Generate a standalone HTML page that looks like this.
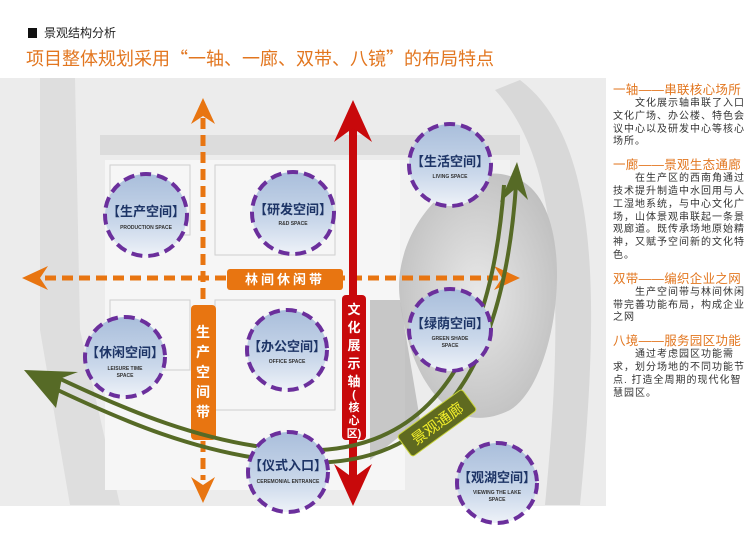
<!DOCTYPE html>
<html><head><meta charset="utf-8"><style>
body{margin:0;width:756px;height:535px;background:#fff;position:relative;overflow:hidden;font-family:"Liberation Sans","Noto Sans CJK SC",sans-serif}
.h1{position:absolute;left:28px;top:24px;font-size:12px;color:#222}
.h1 b{display:inline-block;width:9px;height:10px;background:#111;margin-right:7px;vertical-align:-1px}
.h2{position:absolute;left:26px;top:45px;font-size:18px;color:#e2761f;font-family:"Noto Sans CJK SC",sans-serif;white-space:nowrap}
.side{position:absolute;left:613px;top:82px;width:136px;font-size:10px;line-height:12.8px;color:#333;letter-spacing:1px}
.side .t{color:#e2761f;font-size:12.5px;line-height:16px;margin-top:8px;letter-spacing:0.3px;white-space:nowrap}
.side .t:first-child{margin-top:0}
.side p{margin:0;text-indent:2.2em}
</style></head><body>
<div class="h1"><b></b>景观结构分析</div>
<div class="h2">项目整体规划采用“一轴、一廊、双带、八镜”的布局特点</div>
<svg style="position:absolute;left:0;top:0" width="756" height="535" font-family="Liberation Sans, Noto Sans CJK SC, sans-serif">
<defs>
<linearGradient id="cg" x1="0" y1="0" x2="0" y2="1">
<stop offset="0" stop-color="#a9bedb"/><stop offset="0.6" stop-color="#c9d7ea"/><stop offset="1" stop-color="#eef2f8"/></linearGradient>
<radialGradient id="lake" cx="0.5" cy="0.5" r="0.6"><stop offset="0" stop-color="#e8e8e8"/><stop offset="1" stop-color="#bdbdbd"/></radialGradient>
</defs>
<rect x="0" y="78" width="606" height="428" fill="#ececec"/>
<path d="M40 78 L75 78 L80 330 L120 505 L70 505 L40 330 Z" fill="#dedede"/>
<rect x="100" y="135" width="420" height="20" fill="#dcdcdc"/>
<rect x="105" y="160" width="300" height="330" fill="#f6f6f6"/>
<rect x="400" y="160" width="110" height="150" fill="#f2f2f2"/>
<path d="M520 80 C600 140 600 300 580 505 L545 505 C565 300 560 160 495 90 Z" fill="#d8d8d8"/>
<path d="M400 300 C390 230 460 150 520 180 C580 210 560 380 510 410 C450 440 410 380 400 300 Z" fill="url(#lake)"/>
<path d="M370 300 L400 300 L420 420 L370 460 Z" fill="#a9a9a9" opacity="0.6"/>
<g stroke="#cfcfcf" stroke-width="1" fill="none">
<rect x="110" y="165" width="80" height="70"/><rect x="215" y="165" width="120" height="90"/><rect x="215" y="300" width="120" height="110"/><rect x="110" y="300" width="80" height="70"/>
</g>
<line x1="203" y1="118" x2="203" y2="480" stroke="#e87511" stroke-width="5" stroke-dasharray="11,6"/>
<path d="M203 98 L191 124 L203 116 L215 124 Z" fill="#e87511"/>
<path d="M203 503 L191 477 L203 485 L215 477 Z" fill="#e87511"/>
<rect x="191" y="305" width="25" height="135" rx="4" fill="#e87511"/>
<text font-size="14" fill="#fff" font-weight="bold" text-anchor="middle"><tspan x="203" y="337">生</tspan><tspan x="203" y="357">产</tspan><tspan x="203" y="377">空</tspan><tspan x="203" y="397">间</tspan><tspan x="203" y="417">带</tspan></text>
<line x1="45" y1="278" x2="505" y2="278" stroke="#e87511" stroke-width="5" stroke-dasharray="11,6"/>
<path d="M22 278 L48 266 L40 278 L48 290 Z" fill="#e87511"/>
<path d="M520 278 L494 266 L502 278 L494 290 Z" fill="#e87511"/>
<rect x="227" y="269" width="116" height="21" rx="3" fill="#e87511"/>
<text x="285" y="284" font-size="13" fill="#fff" font-weight="bold" text-anchor="middle" letter-spacing="3">林间休闲带</text>
<line x1="353" y1="110" x2="353" y2="490" stroke="#c8090b" stroke-width="8"/>
<path d="M353 100 L334 142 L353 128 L372 142 Z" fill="#c8090b"/>
<path d="M353 506 L334 464 L353 478 L372 464 Z" fill="#c8090b"/>
<rect x="342" y="295" width="24" height="145" rx="4" fill="#c8090b"/>
<text font-size="13" fill="#fff" font-weight="bold" text-anchor="middle"><tspan x="354" y="314">文</tspan><tspan x="354" y="332">化</tspan><tspan x="354" y="350">展</tspan><tspan x="354" y="368">示</tspan><tspan x="354" y="386">轴</tspan></text>
<text font-size="11" fill="#fff" font-weight="bold" text-anchor="middle"><tspan x="354" y="398">(</tspan><tspan x="354" y="411">核</tspan><tspan x="354" y="424">心</tspan><tspan x="354" y="437">区)</tspan></text>
<g fill="none" stroke="#566a26" stroke-width="4">
<path d="M45 384 C120 420 200 455 290 462 C400 470 500 420 516 185"/>
<path d="M50 374 C125 410 205 444 290 450 C390 456 488 410 504 185"/>
</g>
<path d="M24 370 L78 372 L62 378 L56 408 Z" fill="#566a26"/>
<path d="M517 162 L528 200 L516 188 L500 202 Z" fill="#566a26"/>
<g transform="translate(437,423) rotate(-36)">
<rect x="-40" y="-13" width="80" height="26" rx="3" fill="#5f6a20" stroke="#c9d43a" stroke-width="1"/>
<text x="0" y="6" font-size="15" fill="#f1ee2a" text-anchor="middle">景观通廊</text>
</g>
<g font-weight="bold">
<g transform="translate(146,215)"><circle r="41" fill="url(#cg)" stroke="#6b2f9c" stroke-width="4" stroke-dasharray="11,6"/><text y="1" font-size="13" fill="#1d3466" text-anchor="middle">【生产空间】</text><text y="14" font-size="5" fill="#333" text-anchor="middle">PRODUCTION SPACE</text></g>
<g transform="translate(293,213)"><circle r="41" fill="url(#cg)" stroke="#6b2f9c" stroke-width="4" stroke-dasharray="11,6"/><text y="1" font-size="13" fill="#1d3466" text-anchor="middle">【研发空间】</text><text y="12" font-size="5" fill="#333" text-anchor="middle">R&amp;D SPACE</text></g>
<g transform="translate(450,165)"><circle r="41" fill="url(#cg)" stroke="#6b2f9c" stroke-width="4" stroke-dasharray="11,6"/><text y="1" font-size="13" fill="#1d3466" text-anchor="middle">【生活空间】</text><text y="13" font-size="5" fill="#333" text-anchor="middle">LIVING SPACE</text></g>
<g transform="translate(125,357)"><circle r="40" fill="url(#cg)" stroke="#6b2f9c" stroke-width="4" stroke-dasharray="11,6"/><text y="0" font-size="13" fill="#1d3466" text-anchor="middle">【休闲空间】</text><text y="13" font-size="5" fill="#333" text-anchor="middle">LEISURE TIME</text><text y="20" font-size="5" fill="#333" text-anchor="middle">SPACE</text></g>
<g transform="translate(287,350)"><circle r="40" fill="url(#cg)" stroke="#6b2f9c" stroke-width="4" stroke-dasharray="11,6"/><text y="1" font-size="13" fill="#1d3466" text-anchor="middle">【办公空间】</text><text y="13" font-size="5" fill="#333" text-anchor="middle">OFFICE SPACE</text></g>
<g transform="translate(450,330)"><circle r="41" fill="url(#cg)" stroke="#6b2f9c" stroke-width="4" stroke-dasharray="11,6"/><text y="-2" font-size="13" fill="#1d3466" text-anchor="middle">【绿荫空间】</text><text y="10" font-size="5" fill="#333" text-anchor="middle">GREEN SHADE</text><text y="17" font-size="5" fill="#333" text-anchor="middle">SPACE</text></g>
<g transform="translate(288,472)"><circle r="40" fill="url(#cg)" stroke="#6b2f9c" stroke-width="4" stroke-dasharray="11,6"/><text y="-2" font-size="13" fill="#1d3466" text-anchor="middle">【仪式入口】</text><text y="11" font-size="5" fill="#333" text-anchor="middle">CEREMONIAL ENTRANCE</text></g>
<g transform="translate(497,483)"><circle r="40" fill="url(#cg)" stroke="#6b2f9c" stroke-width="4" stroke-dasharray="11,6"/><text y="-1" font-size="13" fill="#1d3466" text-anchor="middle">【观湖空间】</text><text y="11" font-size="5" fill="#333" text-anchor="middle">VIEWING THE LAKE</text><text y="18" font-size="5" fill="#333" text-anchor="middle">SPACE</text></g>
</g>
</svg>
<div class="side">
<div class="t">一轴——串联核心场所</div>
<p>文化展示轴串联了入口文化广场、办公楼、特色会议中心以及研发中心等核心场所。</p>
<div class="t">一廊——景观生态通廊</div>
<p>在生产区的西南角通过技术提升制造中水回用与人工湿地系统，与中心文化广场，山体景观串联起一条景观廊道。既传承场地原始精神，又赋予空间新的文化特色。</p>
<div class="t">双带——编织企业之网</div>
<p>生产空间带与林间休闲带完善功能布局，构成企业之网</p>
<div class="t">八境——服务园区功能</div>
<p>通过考虑园区功能需求，划分场地的不同功能节点. 打造全周期的现代化智慧园区。</p>
</div>
</body></html>
